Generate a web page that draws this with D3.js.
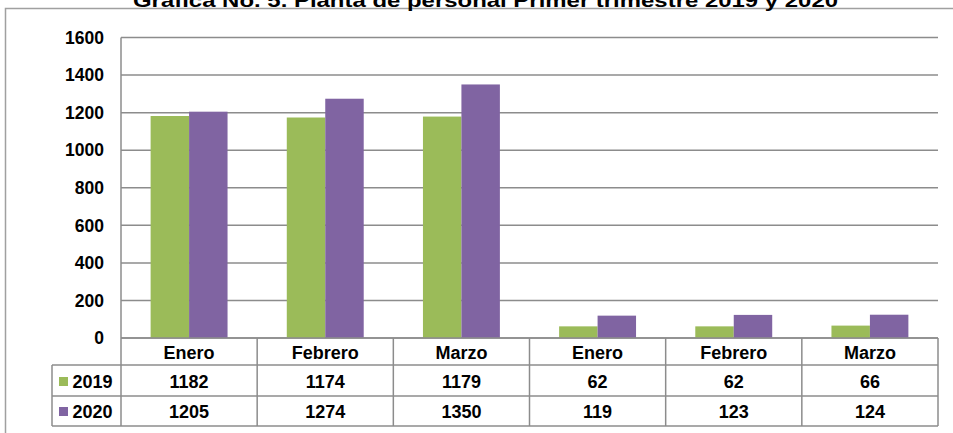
<!DOCTYPE html>
<html>
<head>
<meta charset="utf-8">
<script src="https://cdn.jsdelivr.net/npm/d3@7"></script>
<style>
  body { margin: 0; background: #fff; }
  text { font-family: "Liberation Sans", Arial, sans-serif; font-weight: bold; fill: #000; }
</style>
</head>
<body>
<script>
const title = "Gráfica No. 5. Planta de personal Primer trimestre 2019 y 2020";
const categories = ["Enero", "Febrero", "Marzo", "Enero", "Febrero", "Marzo"];
const seriesNames = ["2019", "2020"];
const values2019 = [1182, 1174, 1179, 62, 62, 66];
const values2020 = [1205, 1274, 1350, 119, 123, 124];
const yTicks = [0, 200, 400, 600, 800, 1000, 1200, 1400, 1600];

const colors = { "2019": "#9bbb59", "2020": "#8064a2" };
const series = [values2019, values2020];

const W = 953, H = 433;
const plotLeft = 121, plotRight = 938, plotTop = 37.5, base = 338;
const rowTops = [338, 365, 396, 426];
const legendLeft = 52;
const gridColor = "#8c8c8c";

const svg = d3.select("body")
  .append("svg")
  .attr("width", W)
  .attr("height", H);

// outer chart border (runs off the right and bottom edges)
svg.append("rect")
  .attr("x", 5.5).attr("y", 8.5)
  .attr("width", 980).attr("height", 460)
  .attr("fill", "none")
  .attr("stroke", "#a0a0a0")
  .attr("stroke-width", 1.5);

// title, clipped by the top of the page like in the source
svg.append("text")
  .attr("x", (133 + 838) / 2)
  .attr("y", 7)
  .attr("text-anchor", "middle")
  .attr("font-size", 18)
  .attr("textLength", 705)
  .attr("lengthAdjust", "spacingAndGlyphs")
  .text(title);

const y = d3.scaleLinear().domain([0, 1600]).range([base, plotTop]);
const x = d3.scaleBand().domain(d3.range(categories.length)).range([plotLeft, plotRight]);
const xSub = d3.scaleBand().domain(seriesNames).range([0, x.bandwidth()]).paddingInner(0).paddingOuter(0.77);

// gridlines
svg.append("g")
  .selectAll("line")
  .data(yTicks)
  .join("line")
  .attr("x1", plotLeft).attr("x2", plotRight)
  .attr("y1", (d) => y(d)).attr("y2", (d) => y(d))
  .attr("stroke", gridColor)
  .attr("stroke-width", 1.5);

// tick labels
svg.append("g")
  .selectAll("text")
  .data(yTicks)
  .join("text")
  .attr("x", 104)
  .attr("y", (d) => y(d))
  .attr("dy", "0.36em")
  .attr("text-anchor", "end")
  .attr("font-size", 17.5)
  .text((d) => d);

// bars
seriesNames.forEach((s, si) => {
  svg.append("g")
    .selectAll("rect")
    .data(series[si])
    .join("rect")
    .attr("x", (d, i) => x(i) + xSub(s))
    .attr("y", (d) => y(d))
    .attr("width", xSub.bandwidth())
    .attr("height", (d) => y(0) - y(d))
    .attr("fill", colors[s]);
});

// data table
const table = svg.append("g")
  .attr("stroke", gridColor)
  .attr("stroke-width", 1.5);

// y axis line continues down through the table
table.append("line")
  .attr("x1", plotLeft).attr("x2", plotLeft)
  .attr("y1", plotTop).attr("y2", rowTops[3]);

// column separators
table.selectAll("line.col")
  .data(d3.range(1, categories.length + 1))
  .join("line")
  .attr("class", "col")
  .attr("x1", (i) => x.step() * i + plotLeft).attr("x2", (i) => x.step() * i + plotLeft)
  .attr("y1", base).attr("y2", rowTops[3]);

// horizontal rules
table.append("line")
  .attr("x1", plotLeft).attr("x2", plotRight)
  .attr("y1", base).attr("y2", base);
[rowTops[1], rowTops[2], rowTops[3]].forEach((ry) => {
  table.append("line")
    .attr("x1", legendLeft).attr("x2", plotRight)
    .attr("y1", ry).attr("y2", ry);
});
table.append("line")
  .attr("x1", legendLeft).attr("x2", legendLeft)
  .attr("y1", rowTops[1]).attr("y2", rowTops[3]);

// header row
svg.append("g")
  .selectAll("text")
  .data(categories)
  .join("text")
  .attr("x", (d, i) => x(i) + x.bandwidth() / 2)
  .attr("y", 359)
  .attr("text-anchor", "middle")
  .attr("font-size", 18)
  .text((d) => d);

// value rows
seriesNames.forEach((s, si) => {
  const rowY = si === 0 ? 387.5 : 417.5;
  const g = svg.append("g");
  g.selectAll("text")
    .data(series[si])
    .join("text")
    .attr("x", (d, i) => x(i) + x.bandwidth() / 2)
    .attr("y", rowY)
    .attr("text-anchor", "middle")
    .attr("font-size", 18)
    .text((d) => d);

  g.append("rect")
    .attr("x", 59).attr("y", rowY - 10.5)
    .attr("width", 9).attr("height", 9)
    .attr("fill", colors[s]);

  g.append("text")
    .attr("x", 72.5)
    .attr("y", rowY)
    .attr("font-size", 18)
    .text(s);
});
</script>
</body>
</html>
